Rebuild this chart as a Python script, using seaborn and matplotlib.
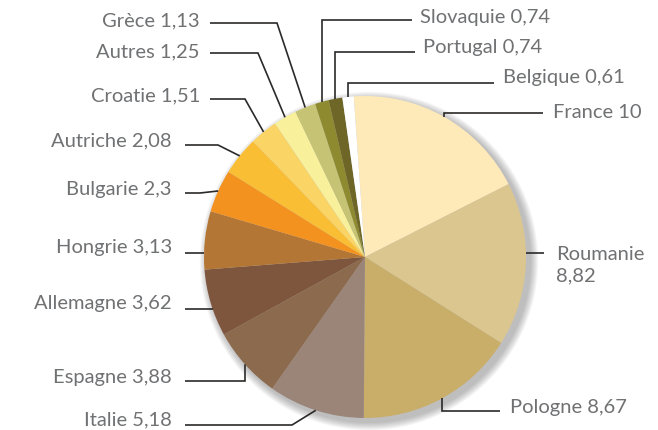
import numpy as np
import matplotlib
matplotlib.use("Agg")
import matplotlib.pyplot as plt
from matplotlib.patches import Circle
import seaborn as sns

# Data (clockwise from the top)
pays = ["France", "Roumanie", "Pologne", "Italie", "Espagne", "Allemagne",
        "Hongrie", "Bulgarie", "Autriche", "Croatie", "Autres", "Grèce",
        "Slovaquie", "Portugal", "Belgique"]
valeurs = [10, 8.82, 8.67, 5.18, 3.88, 3.62, 3.13, 2.3, 2.08, 1.51, 1.25,
           1.13, 0.74, 0.74, 0.61]
etiquettes = ["France 10", "Roumanie\n8,82", "Pologne 8,67", "Italie 5,18",
              "Espagne 3,88", "Allemagne 3,62", "Hongrie 3,13", "Bulgarie 2,3",
              "Autriche 2,08", "Croatie 1,51", "Autres 1,25", "Grèce 1,13",
              "Slovaquie 0,74", "Portugal 0,74", "Belgique 0,61"]
couleurs = ["#FDEAB8", "#DBC68F", "#C9AE6A", "#9A8578", "#8C6A4E", "#7E563D",
            "#B47634", "#F3921F", "#FABE35", "#FBD466", "#F8F09B", "#C6C474",
            "#8E8A2F", "#6E6626", "#FFFFFF"]

W, H = 658, 430
CX, CY, R = 365, 257, 161

def Y(y):
    return H - y

# label layout: text x, text y, side, line y, elbow x (None -> horizontal to pie), line end x
layout = {
    "France":    (553, 112, "L", 113, "v", 543),
    "Roumanie":  (556, 265, "L", 253, None, 544),
    "Pologne":   (510, 408, "L", 411, "v", 500),
    "Italie":    (172, 420, "R", 425, 292, 185),
    "Espagne":   (172, 377, "R", 381, 245, 185),
    "Allemagne": (172, 303, "R", 309, None, 185),
    "Hongrie":   (172, 247, "R", 253, None, 185),
    "Bulgarie":  (172, 189, "R", 193, 200, 185),
    "Autriche":  (172, 141, "R", 145, 218, 185),
    "Croatie":   (200, 96, "R", 99, 245, 210),
    "Autres":    (200, 52, "R", 53, 258, 210),
    "Grèce":     (200, 21, "R", 23, 277, 210),
    "Slovaquie": (420, 18, "L", 20, "v", 412),
    "Portugal":  (423, 47, "L", 52, "v", 415),
    "Belgique":  (503, 78, "L", 83, "v", 494),
}

sns.set_theme(style="white")
plt.rcParams["font.family"] = ["Lato", "DejaVu Sans"]

fig = plt.figure(figsize=(W / 100, H / 100), dpi=100)
ax = fig.add_axes([0, 0, 1, 1])

# soft shadow
for i in range(10):
    ax.add_patch(Circle((CX + 4, Y(CY + 4)), R + 1 + i * 0.8, color="#555555",
                        alpha=0.045, lw=0, zorder=0))

startangle = 94
wedges, _ = ax.pie(valeurs, colors=couleurs, startangle=startangle,
                   counterclock=False, center=(CX, Y(CY)), radius=R,
                   wedgeprops=dict(linewidth=0), frame=True)
for w in wedges:
    w.set_zorder(2)

ax.set_xlim(0, W)
ax.set_ylim(0, H)
ax.set_aspect("equal")
ax.set_axis_off()

total = sum(valeurs)
cum = 0
for nom, val, lab in zip(pays, valeurs, etiquettes):
    mid = np.deg2rad(startangle - (cum + val / 2) / total * 360)
    cum += val
    tx, ty, side, ly, ex, lend = layout[nom]
    if ex is None:
        dy = ly - CY
        dx = np.sqrt(R ** 2 - dy ** 2)
        x0 = CX + dx if side == "L" else CX - dx
        pts = [(x0, ly), (lend, ly)]
    else:
        px = CX + R * np.cos(mid)
        py = CY - R * np.sin(mid)
        if ex == "v":
            pts = [(px, py), (px, ly), (lend, ly)]
        else:
            pts = [(px, py), (ex, ly), (lend, ly)]
    xs = [p[0] for p in pts]
    ys = [Y(p[1]) for p in pts]
    ax.plot(xs, ys, color="#2B2A29", lw=1.2, solid_capstyle="butt",
            solid_joinstyle="miter", zorder=3)
    ha = "left" if side == "L" else "right"
    ax.text(tx, Y(ty), lab, ha=ha, va="center", fontsize=14.5, color="#707173",
            linespacing=1.3, zorder=4)

fig.savefig("out.png", dpi=100)
